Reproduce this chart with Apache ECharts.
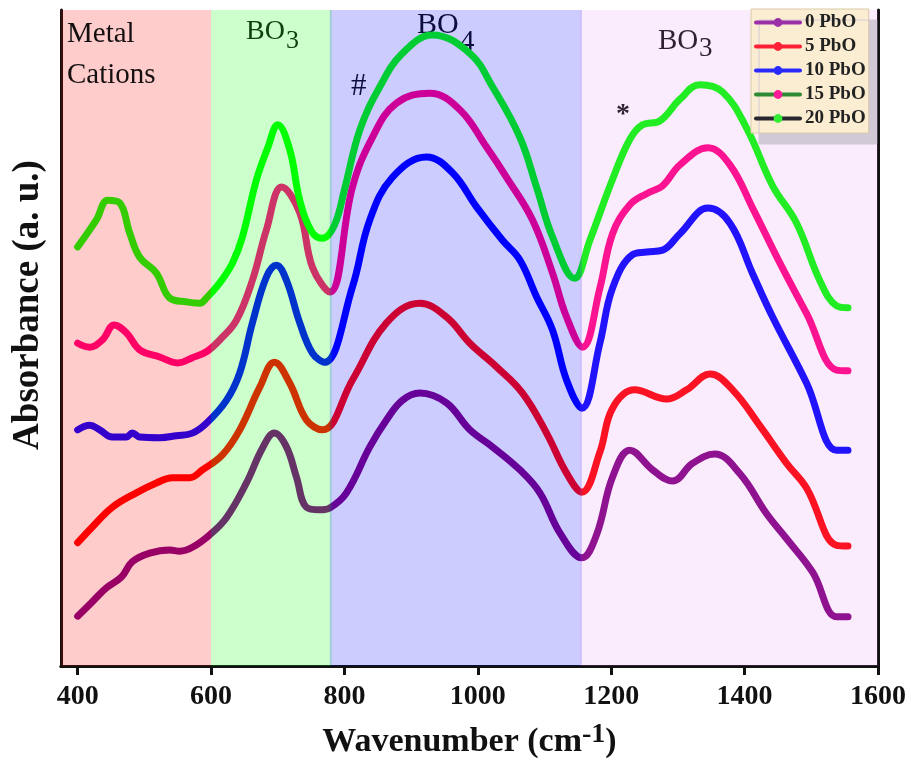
<!DOCTYPE html>
<html>
<head>
<meta charset="utf-8">
<script src="https://cdn.jsdelivr.net/npm/echarts@6/dist/echarts.min.js"></script>
<style>
  html, body { margin: 0; padding: 0; background: #ffffff; }
  #chart { width: 911px; height: 767px; }
</style>
</head>
<body>
<div id="chart"></div>
<script>
// FTIR absorbance spectra of PbO-doped borate glasses (offset, arbitrary units)
const seriesNames = ['0 PbO', '5 PbO', '10 PbO', '15 PbO', '20 PbO'];

const pbo0 = [
  [400, 7.6], [422, 9.8], [443, 11.9], [466, 13.6], [482, 15.9], [508, 17.2], [538, 17.7],
  [553, 17.5], [572, 18.1], [598, 20.0], [623, 22.6], [653, 27.9], [677, 33.2], [695, 35.5],
  [713, 33.4], [728, 28.8], [743, 24.2], [763, 23.8], [778, 24.1], [803, 26.4], [838, 33.4],
  [863, 37.5], [887, 40.5], [913, 41.6], [953, 40.1], [988, 36.0], [1022, 33.4], [1063, 29.9],
  [1093, 26.4], [1123, 20.3], [1156, 16.5], [1178, 20.0], [1202, 28.8], [1228, 32.9],
  [1262, 29.9], [1292, 28.2], [1322, 30.9], [1355, 32.3], [1393, 29.3], [1433, 23.2],
  [1463, 19.4], [1502, 14.3], [1538, 7.5], [1555, 7.5]
];

const pbo5 = [
  [400, 18.8], [422, 21.2], [452, 24.2], [488, 26.4], [518, 27.9], [542, 28.7], [568, 28.7],
  [587, 29.9], [617, 32.2], [643, 36.0], [673, 42.5], [695, 46.3], [718, 43.1], [743, 37.5],
  [767, 36.0], [812, 43.6], [863, 52.3], [913, 55.3], [953, 53.2], [988, 49.2], [1028, 45.6],
  [1067, 41.6], [1103, 35.5], [1133, 29.4], [1156, 26.5], [1183, 32.6], [1202, 39.3],
  [1235, 42.1], [1283, 40.7], [1313, 42.1], [1348, 44.5], [1382, 42.1], [1423, 36.6],
  [1463, 30.9], [1493, 27.1], [1538, 18.4], [1555, 18.3]
];

const pbo10 = [
  [400, 36.0], [418, 36.7], [433, 36.0], [452, 34.9], [473, 34.9], [482, 35.5], [493, 34.9],
  [523, 34.8], [548, 35.1], [572, 35.5], [593, 37.0], [623, 40.5], [643, 44.7], [662, 52.3],
  [683, 59.3], [698, 61.1], [713, 58.8], [733, 52.3], [752, 47.7], [770, 46.3], [812, 57.8],
  [838, 68.0], [872, 74.5], [923, 77.6], [962, 75.2], [998, 70.0], [1037, 64.9], [1063, 61.9],
  [1088, 56.3], [1112, 51.2], [1133, 43.6], [1156, 39.3], [1183, 49.2], [1202, 57.6],
  [1232, 62.7], [1253, 63.1], [1277, 63.4], [1303, 65.9], [1345, 69.8], [1378, 67.5],
  [1412, 59.8], [1442, 53.2], [1493, 43.1], [1538, 32.9], [1555, 32.9]
];

const pbo15 = [
  [400, 49.2], [418, 48.6], [437, 49.7], [455, 52.0], [473, 50.8], [493, 48.2], [523, 47.1],
  [550, 46.2], [572, 47.0], [593, 47.9], [613, 49.7], [638, 52.7], [662, 58.8], [683, 66.5],
  [706, 73.0], [733, 69.1], [752, 60.8], [778, 57.0], [812, 73.0], [842, 80.6], [878, 85.8],
  [928, 87.3], [973, 84.8], [1013, 79.1], [1043, 74.5], [1082, 68.0], [1112, 59.9],
  [1133, 53.2], [1157, 48.6], [1183, 57.6], [1202, 65.9], [1228, 70.3], [1253, 72.0],
  [1277, 73.2], [1303, 76.4], [1345, 79.0], [1378, 76.4], [1412, 69.8], [1453, 61.4],
  [1493, 53.7], [1538, 45.1], [1555, 45.0]
];

const pbo20 = [
  [400, 63.9], [428, 68.0], [445, 71.0], [463, 70.6], [478, 66.0], [493, 62.3], [518, 59.9],
  [538, 56.1], [563, 55.5], [583, 55.3], [593, 56.1], [613, 58.4], [632, 61.4], [647, 65.4],
  [668, 74.1], [685, 79.0], [700, 82.5], [718, 78.7], [733, 71.0], [751, 66.2], [767, 65.2],
  [785, 67.2], [800, 72.6], [823, 81.7], [853, 88.3], [887, 93.4], [932, 96.2], [988, 93.4],
  [1022, 88.3], [1063, 80.6], [1088, 73.0], [1112, 65.4], [1145, 59.1], [1168, 64.9],
  [1202, 74.2], [1228, 80.3], [1247, 82.5], [1273, 83.1], [1303, 86.4], [1333, 88.6],
  [1367, 87.5], [1403, 82.0], [1442, 73.2], [1478, 67.5], [1513, 58.7], [1538, 54.9],
  [1555, 54.6]
];

const spectra = [pbo0, pbo5, pbo10, pbo15, pbo20];
const lineColors = ['#800080', '#ff0000', '#0000ff', '#ff0080', '#00ff00'];
const legendLineColors = ['#9a2fa8', '#ff2236', '#2a2aff', '#2e8b33', '#2a2630'];
const legendDotColors = ['#9a2fa8', '#ff2236', '#2a2aff', '#ff1a99', '#33ee33'];

const xTicks = [400, 600, 800, 1000, 1200, 1400, 1600];

// Spectral regions: metal cations, BO3, BO4, BO3 (neighbouring bands overlap slightly)
const regionStarts = [375, 600, 778, 1153];
const regionEnds = [600, 781, 1156, 1600];
const regionColors = [
  'rgba(255,0,0,0.2)',
  'rgba(0,255,0,0.2)',
  'rgba(0,0,255,0.2)',
  'rgba(230,130,240,0.15)'
];

const serif = '"Liberation Serif", "Times New Roman", serif';
const frameColor = '#111111';

const chart = echarts.init(document.getElementById('chart'), null, { renderer: 'canvas' });

const lineSeries = seriesNames.map((name, i) => ({
  name: name,
  type: 'line',
  data: spectra[i],
  smooth: 0.4,
  showSymbol: false,
  symbol: 'circle',
  symbolSize: 8,
  z: 2,
  silent: true,
  lineStyle: { width: 7, color: lineColors[i], cap: 'round', join: 'round' },
  itemStyle: { color: lineColors[i] }
}));

// Translucent region bands are laid over the spectra, tinting them
const regionSeries = {
  name: 'regions',
  type: 'line',
  data: [],
  z: 6,
  silent: true,
  markArea: {
    silent: true,
    z: 10,
    data: regionColors.map((c, i) => [
      { xAxis: regionStarts[i], itemStyle: { color: c } },
      { xAxis: regionEnds[i] }
    ])
  }
};

const hiddenAxisBits = {
  axisTick: { show: false },
  axisLabel: { show: false },
  splitLine: { show: false }
};

const option = {
  animation: false,
  backgroundColor: '#ffffff',
  grid: { left: 61, right: 33, top: 10, bottom: 101 },
  legend: {
    data: seriesNames.map((n, i) => ({
      name: n,
      itemStyle: { color: legendDotColors[i] },
      lineStyle: { color: legendLineColors[i], width: 4 }
    })),
    orient: 'vertical',
    left: 751,
    top: 9,
    itemWidth: 44,
    itemHeight: 11,
    itemGap: 5,
    padding: [4, 3, 5, 3],
    backgroundColor: '#fbedd1',
    borderColor: '#d9cba9',
    borderWidth: 1,
    shadowColor: '#d2c9d6',
    shadowOffsetX: 8,
    shadowOffsetY: 11,
    shadowBlur: 0,
    selectedMode: false,
    z: 20,
    textStyle: { fontFamily: serif, fontWeight: 'bold', fontSize: 19, color: '#222222' }
  },
  xAxis: [
    {
      type: 'value',
      position: 'bottom',
      min: 375,
      max: 1600,
      axisLine: { show: true, lineStyle: { color: frameColor, width: 3 } },
      axisTick: { show: true, customValues: xTicks, length: 9, lineStyle: { color: frameColor, width: 3 } },
      axisLabel: {
        customValues: xTicks,
        formatter: v => String(v),
        margin: 17,
        fontFamily: serif,
        fontWeight: 'bold',
        fontSize: 28,
        color: '#111111'
      },
      splitLine: { show: false },
      name: '{n|Wavenumber (cm}{s|-1}{n|)}',
      nameLocation: 'middle',
      nameGap: 55,
      nameTextStyle: {
        rich: {
          n: { fontFamily: serif, fontWeight: 'bold', fontSize: 34, lineHeight: 42, color: '#111111' },
          s: { fontFamily: serif, fontWeight: 'bold', fontSize: 28, lineHeight: 22, verticalAlign: 'top', color: '#111111' }
        }
      }
    },
    Object.assign({
      type: 'value',
      position: 'top',
      min: 375,
      max: 1600,
      axisLine: { show: true, lineStyle: { color: frameColor, width: 3 } }
    }, hiddenAxisBits)
  ],
  yAxis: [
    Object.assign({
      type: 'value',
      position: 'left',
      min: 0,
      max: 100,
      axisLine: { show: true, lineStyle: { color: frameColor, width: 3 } }
    }, hiddenAxisBits),
    Object.assign({
      type: 'value',
      position: 'right',
      min: 0,
      max: 100,
      axisLine: { show: true, lineStyle: { color: frameColor, width: 3 } }
    }, hiddenAxisBits)
  ],
  graphic: [
    { type: 'text', z: 1, x: 28, y: 305, rotation: Math.PI / 2,
      style: { text: 'Absorbance (a. u.)', fontFamily: serif, fontWeight: 'bold', fontSize: 37,
               fill: '#111111', align: 'center', verticalAlign: 'middle' } },
    { type: 'text', z: 30, x: 67, y: 34,
      style: { text: 'Metal', fontFamily: serif, fontSize: 29, fill: '#141010', align: 'left', verticalAlign: 'middle' } },
    { type: 'text', z: 30, x: 67, y: 75,
      style: { text: 'Cations', fontFamily: serif, fontSize: 29, fill: '#141010', align: 'left', verticalAlign: 'middle' } },
    { type: 'text', z: 1, x: 246, y: 32,
      style: { text: 'BO', fontFamily: serif, fontSize: 28, fill: '#111111', align: 'left', verticalAlign: 'middle' } },
    { type: 'text', z: 1, x: 286, y: 41,
      style: { text: '3', fontFamily: serif, fontSize: 26, fill: '#111111', align: 'left', verticalAlign: 'middle' } },
    { type: 'text', z: 1, x: 417, y: 25,
      style: { text: 'BO', fontFamily: serif, fontSize: 30, fill: '#111111', align: 'left', verticalAlign: 'middle' } },
    { type: 'text', z: 1, x: 460, y: 42,
      style: { text: '4', fontFamily: serif, fontSize: 29, fill: '#111111', align: 'left', verticalAlign: 'middle' } },
    { type: 'text', z: 1, x: 658, y: 41,
      style: { text: 'BO', fontFamily: serif, fontSize: 29, fill: '#111111', align: 'left', verticalAlign: 'middle' } },
    { type: 'text', z: 1, x: 699, y: 49,
      style: { text: '3', fontFamily: serif, fontSize: 27, fill: '#111111', align: 'left', verticalAlign: 'middle' } },
    { type: 'text', z: 1, x: 351, y: 87,
      style: { text: '#', fontFamily: serif, fontSize: 31, fill: '#111111', align: 'left', verticalAlign: 'middle' } },
    { type: 'text', z: 1, x: 616, y: 115,
      style: { text: '*', fontFamily: serif, fontWeight: 'bold', fontSize: 28, fill: '#111111', align: 'left', verticalAlign: 'middle' } }
  ],
  series: lineSeries.concat([regionSeries])
};

chart.setOption(option);
</script>
</body>
</html>
